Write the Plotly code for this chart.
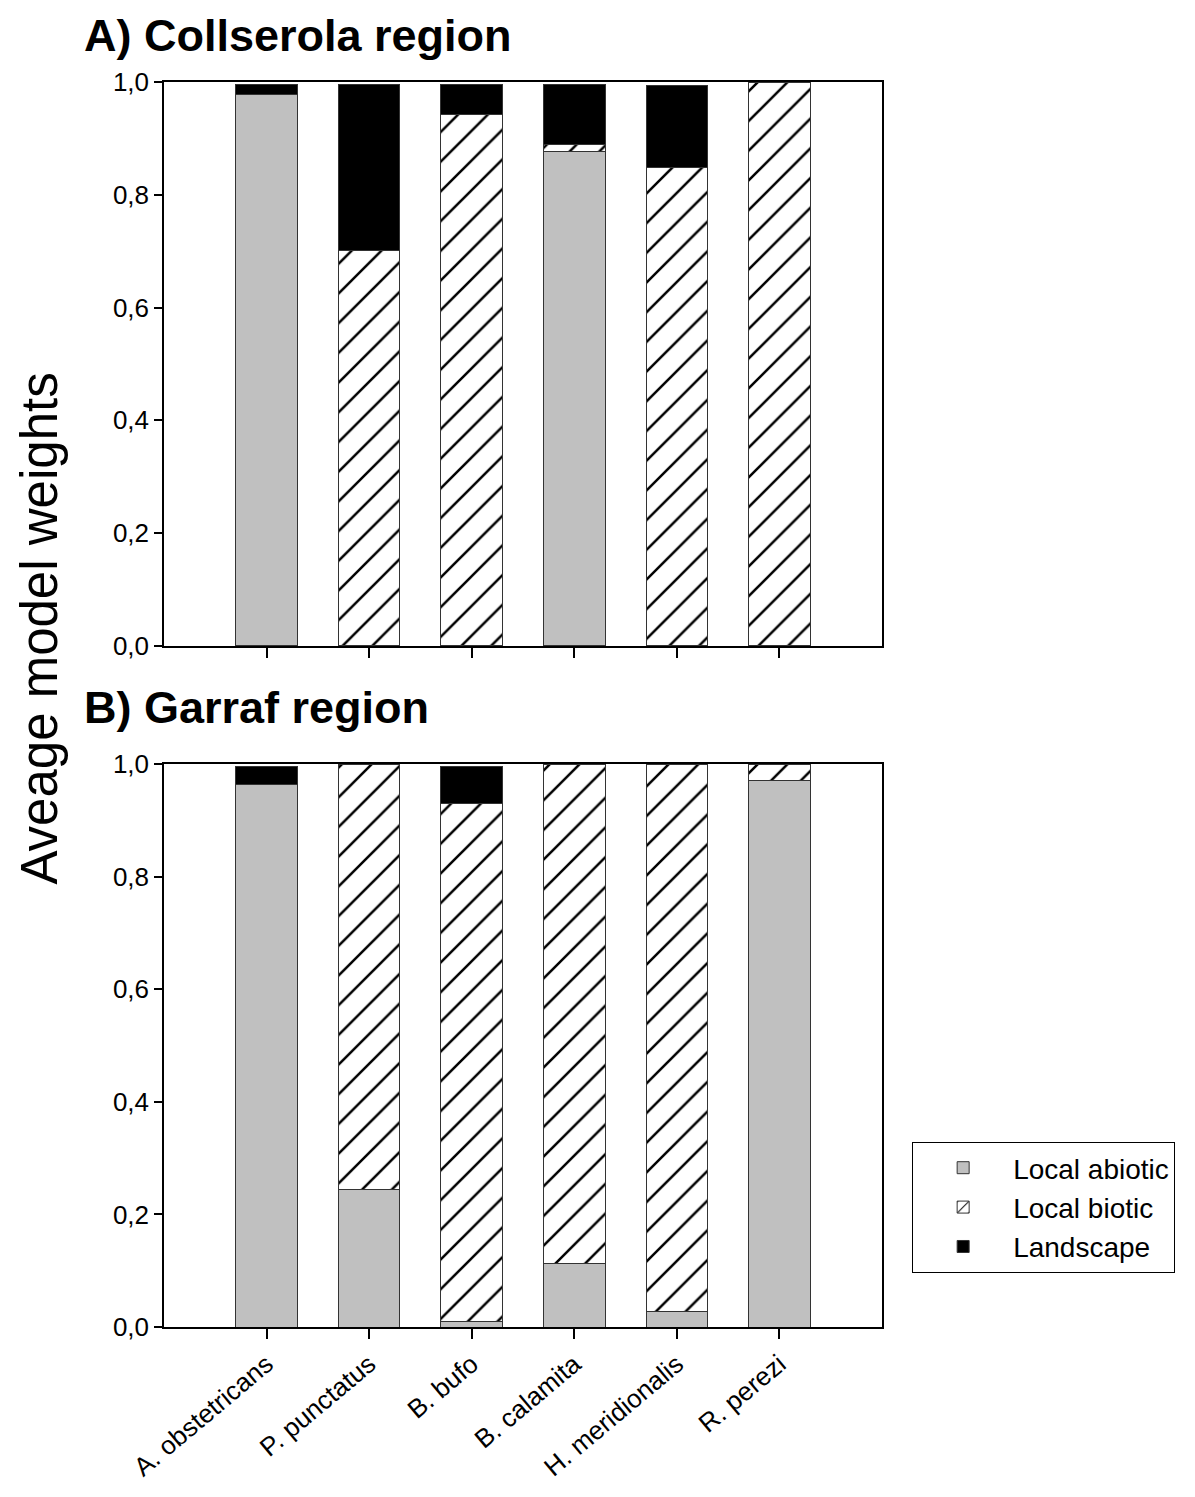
import plotly.graph_objects as go
from plotly.subplots import make_subplots

species = ["A. obstetricans", "P. punctatus", "B. bufo", "B. calamita", "H. meridionalis", "R. perezi"]

# Collserola region (panel A)
coll_abiotic = [0.978, 0.0, 0.0, 0.877, 0.0, 0.0]
coll_biotic = [0.0, 0.702, 0.943, 0.013, 0.848, 1.0]
coll_landscape = [0.017, 0.293, 0.052, 0.106, 0.145, 0.0]

# Garraf region (panel B)
garr_abiotic = [0.964, 0.245, 0.010, 0.112, 0.028, 0.971]
garr_biotic = [0.0, 0.755, 0.919, 0.888, 0.972, 0.029]
garr_landscape = [0.032, 0.0, 0.067, 0.0, 0.0, 0.0]

series_names = ["Local abiotic", "Local biotic", "Landscape"]
y_ticks = [0, 0.2, 0.4, 0.6, 0.8, 1.0]

FONT = "Liberation Sans, Arial, sans-serif"
outline = dict(color="#333333", width=1)
bar_width = 0.6

fig = make_subplots(rows=2, cols=1, vertical_spacing=0.0)

panels = [
    (1, coll_abiotic, coll_biotic, coll_landscape, True),
    (2, garr_abiotic, garr_biotic, garr_landscape, False),
]
for row, ab, bi, la, show in panels:
    fig.add_trace(go.Bar(x=species, y=ab, name=series_names[0], width=bar_width,
                         marker=dict(color="#c0c0c0", line=outline),
                         legendgroup="a", showlegend=show), row=row, col=1)
    fig.add_trace(go.Bar(x=species, y=bi, name=series_names[1], width=bar_width,
                         marker=dict(color="white", line=outline,
                                     pattern=dict(shape="/", fgcolor="black", bgcolor="white",
                                                  fgopacity=1, size=21, solidity=0.12,
                                                  fillmode="overlay")),
                         legendgroup="b", showlegend=show), row=row, col=1)
    fig.add_trace(go.Bar(x=species, y=la, name=series_names[2], width=bar_width,
                         marker=dict(color="black", line=outline),
                         legendgroup="c", showlegend=show), row=row, col=1)

fig.update_layout(
    barmode="stack",
    width=1195, height=1497,
    margin=dict(l=156, r=321, t=74, b=178),
    plot_bgcolor="white", paper_bgcolor="white",
    separators=",.",
    font=dict(family=FONT, size=26, color="black"),
    legend=dict(x=1.042, y=0.1486, xanchor="left", yanchor="top",
                bordercolor="black", borderwidth=1, bgcolor="white",
                font=dict(size=28), traceorder="normal", itemwidth=90,
                tracegroupgap=0),
    showlegend=True,
)

for r in (1, 2):
    fig.update_xaxes(row=r, col=1, range=[-1, 6], showline=True, linecolor="black", linewidth=1.5,
                     mirror=True, ticks="outside", ticklen=10, tickcolor="black", tickwidth=1.5,
                     showgrid=False, zeroline=False, tickangle=-40,
                     showticklabels=(r == 2), tickfont=dict(size=26))
    fig.update_yaxes(row=r, col=1, range=[0, 1.0], tickvals=y_ticks, tickformat=".1f",
                     showline=True, linecolor="black", linewidth=1.5, mirror=True,
                     ticks="outside", ticklen=8, tickcolor="black", tickwidth=1.5,
                     showgrid=False, zeroline=False, tickfont=dict(size=26))

fig.update_yaxes(domain=[0.547, 1.0], row=1, col=1)
fig.update_yaxes(domain=[0.0, 0.4522], row=2, col=1)

fig.add_annotation(text="<b>A) Collserola region</b>", xref="paper", yref="paper",
                   x=-0.1142, y=1.037, xanchor="left", yanchor="middle",
                   showarrow=False, font=dict(size=45, family=FONT))
fig.add_annotation(text="<b>B) Garraf region</b>", xref="paper", yref="paper",
                   x=-0.1142, y=0.4972, xanchor="left", yanchor="middle",
                   showarrow=False, font=dict(size=45, family=FONT))
fig.add_annotation(text="Aveage model weights", xref="paper", yref="paper",
                   x=-0.1727, y=0.561, xanchor="center", yanchor="middle", textangle=-90,
                   showarrow=False, font=dict(size=51, family=FONT))

fig.write_html("out.html")
